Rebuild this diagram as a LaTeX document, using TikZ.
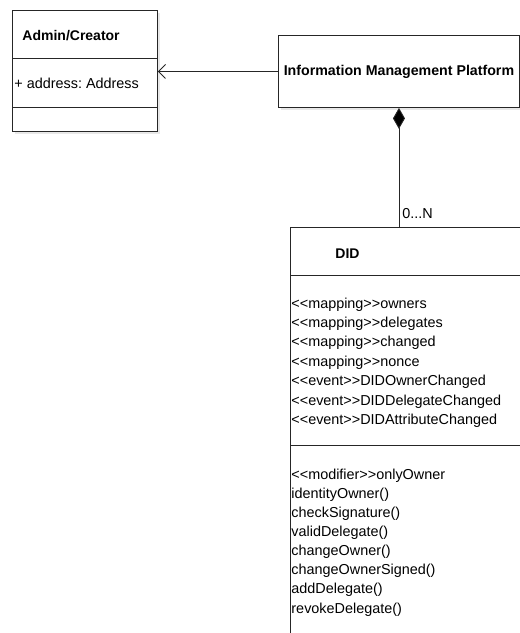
\documentclass[tikz,border=0pt]{standalone}
\usepackage{fontspec}
\setmainfont{Liberation Sans}[Ligatures=TeXOff]
\usetikzlibrary{arrows.meta}
\usetikzlibrary{positioning}
\usetikzlibrary{shadows}
\frenchspacing

\begin{document}
\begin{tikzpicture}[x=1pt, y=-1pt, line width=0.9pt,
	classbox/.style={draw=black!85, rectangle, anchor=north west, inner sep=0pt, fill=white,
		drop shadow={shadow xshift=2.5pt, shadow yshift=-2.5pt, opacity=0.18}},
	member/.style={anchor=base west, inner sep=0pt, font=\fontsize{14.4}{16}\selectfont},
	classname/.style={member, font=\fontsize{14}{16}\selectfont\bfseries}]
				\useasboundingbox (0,0) rectangle (520,633);
				\clip (0,0) rectangle (520,633);
				% classes
				\node[classbox, minimum width=145pt, minimum height=121pt] (admin) at (12,10) {};
				\node[classbox, minimum width=241pt, minimum height=72pt, font=\fontsize{14.2}{16}\selectfont\bfseries] (imp) at (278,35) {Information Management Platform};
				\node[classbox, minimum width=260pt, minimum height=430pt] (did) at (290,227) {};
				\draw[black!85] (admin.west |- 0,58) -- (admin.east |- 0,58);
				\draw[black!85] (admin.west |- 0,107) -- (admin.east |- 0,107);
				\draw[black!85] (did.west |- 0,275) -- (did.east |- 0,275);
				\draw[black!85] (did.west |- 0,445) -- (did.east |- 0,445);
				\node[classname] (adminname) at (22,40) {Admin/Creator};
				\node[member] (adminattr) at (14,88) {+ address: Address};
				\node[classname] (didname) at (335,258) {DID};
				\foreach \t [count=\i] in {<<mapping>>owners, <<mapping>>delegates, <<mapping>>changed, <<mapping>>nonce, <<event>>DIDOwnerChanged, <<event>>DIDDelegateChanged, <<event>>DIDAttributeChanged}
					\node[member] (didattr\i) at (291, 308+19.45*\i-19.45) {\t};
				\foreach \t [count=\i] in {<<modifier>>onlyOwner, identityOwner(), checkSignature(), validDelegate(), changeOwner(), changeOwnerSigned(), addDelegate(), revokeDelegate()}
					\node[member] (didop\i) at (291, 479+19.15*\i-19.15) {\t};
				% connectors
				\draw[-{Straight Barb[length=7pt, width=14pt]}, black!85] (imp.west) -- (admin.east |- imp.west);
				\draw[{Diamond[length=21pt, width=12pt, fill=black]}-, black!85] (imp.south) -- (imp.south |- did.north);
				\node[member] (mult) at (402,218) {0...N};
			\end{tikzpicture}
\end{document}
